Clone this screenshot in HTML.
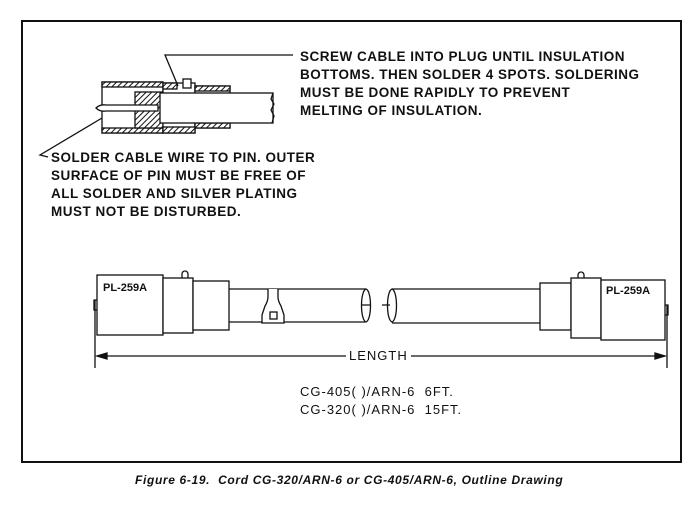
<!DOCTYPE html>
<html><head><style>
html,body{margin:0;padding:0;background:#fff;}
body{width:697px;height:508px;position:relative;overflow:hidden;font-family:"Liberation Sans",sans-serif;}
.t{position:absolute;font-weight:bold;color:#111;font-size:13.5px;letter-spacing:0.5px;line-height:18px;white-space:nowrap;}
</style></head><body>
<svg width="697" height="508" style="position:absolute;left:0;top:0" xmlns="http://www.w3.org/2000/svg">
<defs>
<pattern id="h" width="4" height="4" patternUnits="userSpaceOnUse" patternTransform="rotate(45)">
<rect width="4" height="4" fill="#fff"/><line x1="0" y1="0" x2="0" y2="4" stroke="#111" stroke-width="2"/></pattern>
</defs>
<rect x="22" y="21" width="659" height="441" fill="none" stroke="#111" stroke-width="2"/>
<g stroke="#111" stroke-width="1.3" fill="none">
<rect x="102" y="82" width="61" height="51" fill="#fff"/>
<rect x="102" y="82" width="61" height="5" fill="url(#h)"/>
<rect x="102" y="128" width="61" height="5" fill="url(#h)"/>
<rect x="135" y="92" width="28" height="36" fill="url(#h)"/>
<rect x="163" y="83" width="32" height="50" fill="#fff"/>
<rect x="195" y="86" width="35" height="42" fill="#fff"/>
<rect x="195" y="86" width="35" height="5" fill="url(#h)"/>
<rect x="195" y="123" width="35" height="5" fill="url(#h)"/>
<rect x="163" y="83" width="14" height="6" fill="url(#h)"/>
<rect x="163" y="127" width="32" height="6" fill="url(#h)"/>
<rect x="183" y="79" width="8" height="9" fill="#fff"/>
<rect x="160" y="93" width="113" height="30" fill="#fff"/>
<path d="M273 93 l-2 6 l3 5 l-3 6 l3 6 l-2 7"/>
<path d="M96 108 q4 -4 10 -3 h52 v6 h-52 q-6 1 -10 -3z" fill="#fff"/>
<path d="M293 55 H165 L178 86"/>
<path d="M102 118 L40 155 L48 157"/>
<rect x="97" y="275" width="66" height="60" fill="#fff"/>
<rect x="163" y="278" width="30" height="55" fill="#fff"/>
<rect x="193" y="281" width="36" height="49" fill="#fff"/>
<path d="M182 278 v-4 a3 3 0 0 1 6 0 v4"/>
<path d="M97 300 h-3 v10 h3"/>
<path d="M229 289 H366 M229 322 H365"/>
<path d="M366 289 c-6 2 -6 31 0 33 c6 -2 6 -31 0 -33z"/>
<path d="M362 305 h8 M382 305 h8"/>
<path d="M392 289 c-6 2 -6 31 0 33 c6 -2 6 -31 0 -33z"/>
<path d="M392 289 H540 M392 323 H540"/>
<path d="M268 289 v8 q0 4 -3 9 l-3 9 v8 h22 v-8 l-3 -9 q-3 -5 -3 -9 v-8" fill="#fff"/>
<rect x="270" y="312" width="7" height="7" fill="#fff"/>
<rect x="540" y="283" width="31" height="47" fill="#fff"/>
<rect x="571" y="278" width="30" height="60" fill="#fff"/>
<rect x="601" y="280" width="64" height="60" fill="#fff"/>
<path d="M578 278 v-3 a3 3 0 0 1 6 0 v3"/>
<path d="M665 305 h3 v10 h-3"/>
<path d="M95 300 V368 M667 305 V368"/>
<path d="M97 356 H346 M411 356 H665"/>
<path d="M97 356 l10 -3 v6z M665 356 l-10 -3 v6z" fill="#111"/>
</g>
</svg>
<div class="t" style="left:300px;top:48px">SCREW CABLE INTO PLUG UNTIL INSULATION<br>BOTTOMS. THEN SOLDER 4 SPOTS. SOLDERING<br>MUST BE DONE RAPIDLY TO PREVENT<br>MELTING OF INSULATION.</div>
<div class="t" style="left:51px;top:149px">SOLDER CABLE WIRE TO PIN. OUTER<br>SURFACE OF PIN MUST BE FREE OF<br>ALL SOLDER AND SILVER PLATING<br>MUST NOT BE DISTURBED.</div>
<div class="t" style="left:103px;top:279px;font-size:11px;letter-spacing:0">PL-259A</div>
<div class="t" style="left:606px;top:282px;font-size:11px;letter-spacing:0">PL-259A</div>
<div class="t" style="left:349px;top:347px;font-weight:normal;font-size:13px;letter-spacing:1px">LENGTH</div>
<div class="t" style="left:300px;top:383px;font-weight:normal;font-size:13px;letter-spacing:1px">CG-405( )/ARN-6&nbsp; 6FT.<br>CG-320( )/ARN-6&nbsp; 15FT.</div>
<div class="t" style="left:135px;top:471px;font-style:italic;font-size:12px;letter-spacing:0.65px">Figure 6-19.&nbsp; Cord CG-320/ARN-6 or CG-405/ARN-6, Outline Drawing</div>
</body></html>
